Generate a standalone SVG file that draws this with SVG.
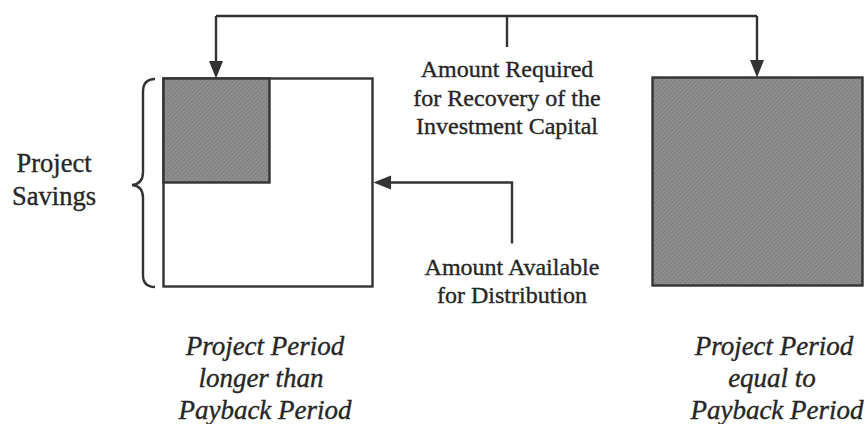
<svg xmlns="http://www.w3.org/2000/svg" width="866" height="424" viewBox="0 0 866 424">
  <style>
    .line { fill: none; stroke: #333; stroke-width: 2.4; stroke-linejoin: miter; }
    .box { fill: #fff; stroke: #333; stroke-width: 2.4; }
    .shade { fill: url(#hatch); stroke: #333; stroke-width: 2.4; }
    .head { fill: #333; stroke: none; }
    text { fill: #262626; stroke: #262626; stroke-width: 0.35; text-anchor: middle; font-family: "Liberation Serif", "Times New Roman", serif; }
    .lbl { font-size: 24px; }
    .side { font-size: 26.5px; }
    .cap { font-style: italic; font-size: 27px; }
  </style>
  <defs>
    <!-- fine diagonal screen used for the shaded areas -->
    <pattern id="hatch" width="3" height="3" patternUnits="userSpaceOnUse" patternTransform="rotate(45)">
      <rect width="3" height="3" fill="#8e8e8e"/>
      <line x1="0" y1="0" x2="0" y2="3" stroke="#737373" stroke-width="1.2"/>
    </pattern>
  </defs>

  <rect width="866" height="424" fill="#fff"/>

  <!-- left case: capital recovered before the end of the project -->
  <g id="node-longer">
    <rect class="box" x="163.5" y="78.5" width="209" height="208"/>
    <rect class="shade" x="163.5" y="78.5" width="106" height="104"/>
  </g>

  <!-- right case: capital recovered exactly at the end of the project -->
  <g id="node-equal">
    <rect class="shade" x="652.5" y="77.5" width="210" height="208"/>
  </g>

  <!-- brace marking the project savings -->
  <g id="node-savings">
    <path class="line" d="M155,79 Q143,79 143,92 L143,172 Q143,184 132,185 Q143,186 143,198 L143,275 Q143,287 155,287"/>
    <text class="side" x="54" y="172">Project</text>
    <text class="side" x="54" y="205">Savings</text>
  </g>

  <g id="node-required">
    <text class="lbl" x="507" y="77">Amount Required</text>
    <text class="lbl" x="507" y="105.5">for Recovery of the</text>
    <text class="lbl" x="507" y="134">Investment Capital</text>
  </g>

  <g id="node-available">
    <text class="lbl" x="512" y="275">Amount Available</text>
    <text class="lbl" x="512" y="303">for Distribution</text>
  </g>

  <g id="caption-longer">
    <text class="cap" x="265" y="355">Project Period</text>
    <text class="cap" x="261" y="387">longer than</text>
    <text class="cap" x="265" y="419">Payback Period</text>
  </g>

  <g id="caption-equal">
    <text class="cap" x="774" y="355">Project Period</text>
    <text class="cap" x="772" y="387">equal to</text>
    <text class="cap" x="777" y="419">Payback Period</text>
  </g>

  <!-- connectors -->
  <g id="connectors">
    <path class="line" d="M507,47 L507,16 M216,16 L757,16 M216,16 L216,64 M757,16 L757,63"/>
    <polygon class="head" points="209,61 223,61 216,78.5"/>
    <polygon class="head" points="750,60 764,60 757,77.5"/>
    <path class="line" d="M512,243.5 L512,182.5 L388,182.5"/>
    <polygon class="head" points="373.5,182.5 391,175.5 391,189.5"/>
  </g>
</svg>
